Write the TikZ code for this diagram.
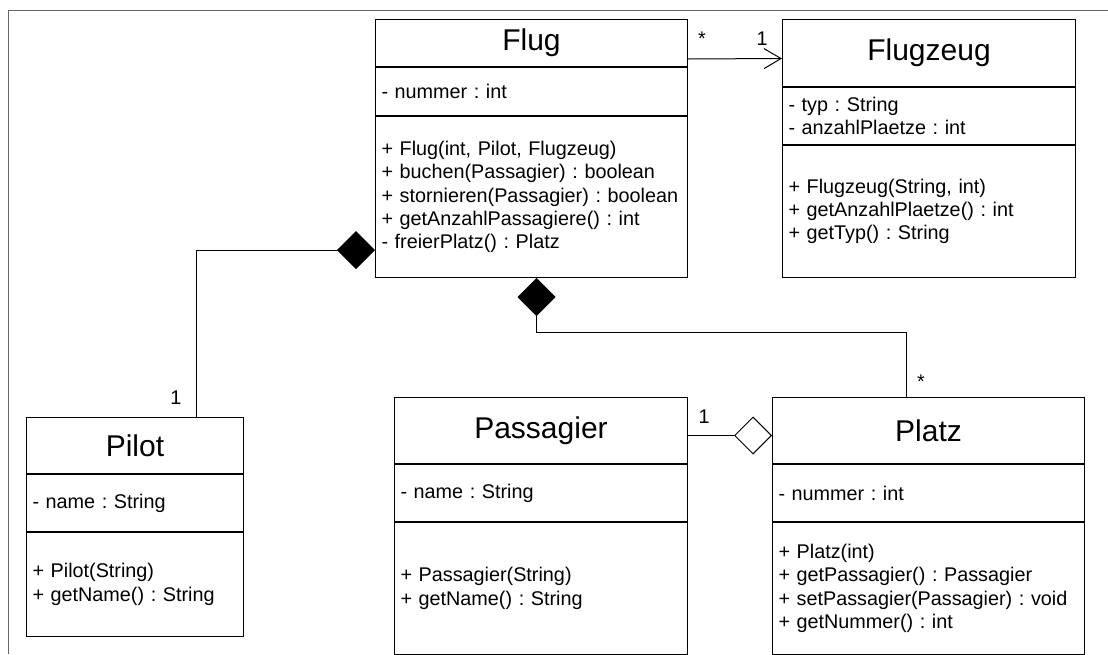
\documentclass[tikz,border=0pt]{standalone}
\usepackage{fontspec}
\setmainfont{Liberation Sans}
\frenchspacing
\usetikzlibrary{arrows.meta,positioning}

\begin{document}
\begin{tikzpicture}[
    x=1pt, y=-1pt,
    box/.style={draw, line width=1pt, inner xsep=6pt, inner ysep=0pt, align=left, font=\fontsize{19.8}{23.3}\selectfont},
    head/.style={box, align=center, font=\fontsize{30}{34}\selectfont},
    mult/.style={anchor=base, inner sep=0pt, font=\fontsize{19.8}{23.3}\selectfont},
    frame/.style={draw=black!60, line width=1pt},
    comp/.style={line width=1pt, -{Diamond[length=38pt, width=38pt]}},
    agg/.style={line width=1pt, -{Diamond[open, fill=white, length=38pt, width=38pt]}},
    assoc/.style={line width=1pt, -{Straight Barb[length=17pt, width=20pt]}}
]
\useasboundingbox (0,0) rectangle (1108,654);
\draw[frame] (8,654) |- (1108,10);

% Flug
\node[head, text width=300pt, minimum height=47pt, anchor=north west] (flug-head) at (375,19) {Flug};
\node[box, text width=300pt, minimum height=48pt, below=0pt of flug-head] (flug-attr) {- nummer : int};
\node[box, text width=300pt, minimum height=161pt, below=0pt of flug-attr] (flug-ops) {+ Flug(int, Pilot, Flugzeug)\\+ buchen(Passagier) : boolean\\+ stornieren(Passagier) : boolean\\+ getAnzahlPassagiere() : int\\- freierPlatz() : Platz};

% Flugzeug
\node[head, text width=281pt, minimum height=67pt, anchor=north west] (flugzeug-head) at (782,19) {Flugzeug};
\node[box, text width=281pt, minimum height=57pt, below=0pt of flugzeug-head] (flugzeug-attr) {- typ : String\\- anzahlPlaetze : int};
\node[box, text width=281pt, minimum height=132pt, below=0pt of flugzeug-attr] (flugzeug-ops) {+ Flugzeug(String, int)\\+ getAnzahlPlaetze() : int\\+ getTyp() : String};

% Pilot
\node[head, text width=205pt, minimum height=56pt, anchor=north west] (pilot-head) at (26,417) {Pilot};
\node[box, text width=205pt, minimum height=57pt, below=0pt of pilot-head] (pilot-attr) {- name : String};
\node[box, text width=205pt, minimum height=104pt, below=0pt of pilot-attr] (pilot-ops) {+ Pilot(String)\\+ getName() : String};

% Passagier
\node[head, text width=281pt, minimum height=66pt, anchor=north west] (passagier-head) at (394,397) {Passagier};
\node[box, text width=281pt, minimum height=57pt, below=0pt of passagier-head] (passagier-attr) {- name : String};
\node[box, text width=281pt, minimum height=132pt, below=0pt of passagier-attr] (passagier-ops) {+ Passagier(String)\\+ getName() : String};

% Platz
\node[head, text width=300pt, minimum height=66pt, anchor=north west] (platz-head) at (772,397) {Platz};
\node[box, text width=300pt, minimum height=57pt, below=0pt of platz-head] (platz-attr) {- nummer : int};
\node[box, text width=300pt, minimum height=132pt, below=0pt of platz-attr] (platz-ops) {+ Platz(int)\\+ getPassagier() : Passagier\\+ setPassagier(Passagier) : void\\+ getNummer() : int};

% Beziehungen
\draw[assoc] ([yshift=8pt]flug-head.south east) -- ([yshift=-5.5pt]flugzeug-head.west);
\draw[comp] ([xshift=61.5pt]pilot-head.north) |- ([yshift=28pt]flug-ops.south west);
\draw[comp] ([xshift=-22pt]platz-head.north) -- ++(0,-65) -| ([xshift=5pt]flug-ops.south);
\draw[agg] ([yshift=-5pt]passagier-head.east) -- ([yshift=-5pt]platz-head.west);

% Multiplizitaeten
\node[mult] (m-flug) at (702,45) {*};
\node[mult] (m-flugzeug) at (762,45) {1};
\node[mult] (m-pilot) at (176,404) {1};
\node[mult] (m-platz) at (921,388) {*};
\node[mult] (m-passagier) at (704,423) {1};
\end{tikzpicture}
\end{document}
